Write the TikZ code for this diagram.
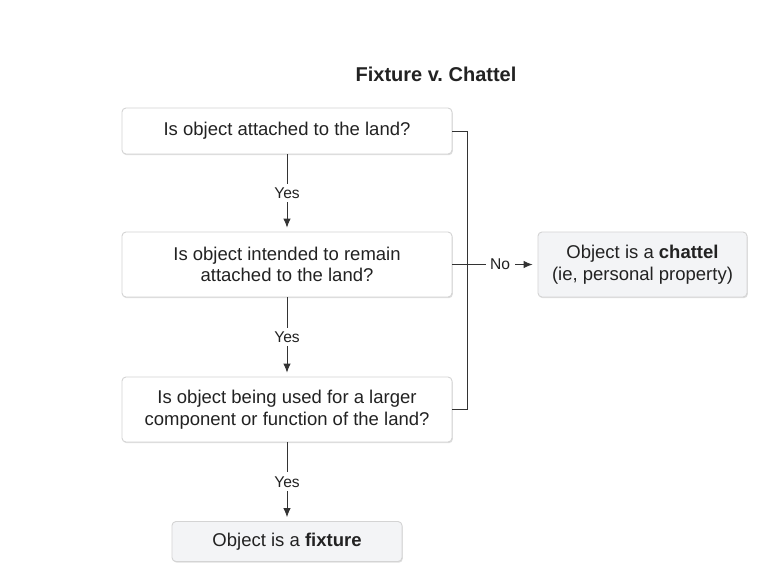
\documentclass[tikz,border=0pt]{standalone}
\usepackage{fontspec}
\setmainfont{Liberation Sans}
\frenchspacing
\usetikzlibrary{arrows.meta,shadows}
\definecolor{txt}{HTML}{222222}
\definecolor{ln}{HTML}{333333}
\definecolor{boxline}{HTML}{D4D4D4}
\definecolor{endfill}{HTML}{F3F4F6}
\tikzset{
  qbox/.style={rectangle, rounded corners=4pt, draw=boxline, line width=0.9pt, fill=white,
    text=txt, align=center, font=\fontsize{18.5}{21.5}\selectfont, inner sep=0pt,
    drop shadow={shadow xshift=0.8pt, shadow yshift=-1.2pt, opacity=0.35, fill=black!35}},
  endbox/.style={qbox, fill=endfill},
  conn/.style={draw=ln, line width=0.9pt},
  arr/.style={conn, -{Latex[length=9pt,width=7.5pt]}, shorten >=4pt},
  lbl/.style={fill=white, text=txt, font=\fontsize{15.6}{18}\selectfont, inner xsep=4.5pt, inner ysep=4pt},
  ttl/.style={text=txt, font=\fontsize{20}{24}\selectfont\bfseries}
}
\begin{document}
\begin{tikzpicture}[x=1pt,y=1pt]
\useasboundingbox (0,0) rectangle (784,-563);
\fill[white] (0,0) rectangle (784,-563);
\node[ttl] (title) at (436,-74) {Fixture v. Chattel};
\node[qbox, minimum width=330, minimum height=46] (b1) at (287,-131) {Is object attached to the land?};
\node[qbox, minimum width=330, minimum height=65] (b2) at (287,-264.5) {Is object intended to remain\\attached to the land?};
\node[qbox, minimum width=330, minimum height=65] (b3) at (287,-409.5) {Is object being used for a larger\\component or function of the land?};
\node[endbox, minimum width=230, minimum height=40] (b4) at (287,-541.5) {Object is a \textbf{fixture}};
\node[endbox, minimum width=209, minimum height=65] (ch) at (642.5,-264.5) {Object is a \textbf{chattel}\\(ie, personal property)};
\coordinate (bus) at (467,0);
\draw[arr] (b1) -- node[lbl]{Yes} (b2);
\draw[arr] (b2) -- node[lbl]{Yes} (b3);
\draw[arr] (b3) -- node[lbl]{Yes} (b4);
\draw[conn] (b1.east) -| (bus |- b3.east) -- (b3.east);
\draw[arr, shorten >=5pt] (b2.east) -- node[lbl, pos=0.56]{No} (ch.west);
\end{tikzpicture}
\end{document}
